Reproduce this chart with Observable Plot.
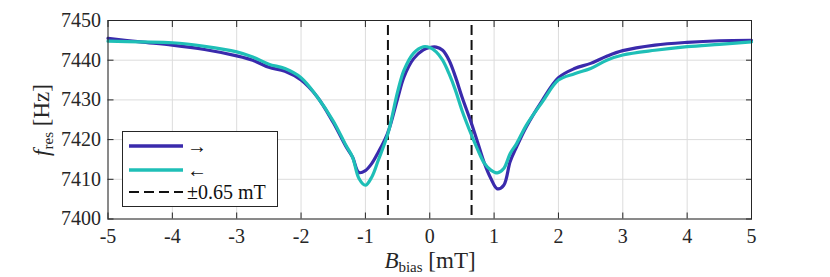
<!DOCTYPE html>
<html><head><meta charset="utf-8">
<script src="https://cdn.jsdelivr.net/npm/d3@7"></script>
<script src="https://cdn.jsdelivr.net/npm/@observablehq/plot@0.6"></script>
<style>
body{margin:0;background:#fff;}
#wrap{position:relative;width:830px;height:277px;font-family:'Liberation Serif','Times New Roman','DejaVu Serif',serif;}
#legend{position:absolute;left:122px;top:131px;width:156px;height:76px;border:1px solid #262626;background:#fff;box-sizing:border-box;font-size:20px;color:#111;}
.row{position:absolute;left:6px;display:flex;align-items:center;}
</style></head><body><div id="wrap"></div>
<script>
const bx = [-5,-4.5,-4,-3.5,-3,-2.75,-2.5,-2.25,-2,-1.75,-1.5,-1.3,-1.2,-1.1,-1.0,-0.9,-0.8,-0.65,-0.5,-0.4,-0.25,-0.1,0,0.1,0.2,0.3,0.4,0.5,0.65,0.75,0.85,0.95,1.05,1.15,1.25,1.35,1.5,1.75,2,2.25,2.5,2.75,3,3.5,4,4.5,5];
const fwd = [7445.5,7444.6,7443.8,7442.7,7441.1,7440.0,7438.2,7437.2,7435.0,7430.8,7424.3,7418.2,7415.6,7411.7,7412.2,7414.0,7416.8,7421.8,7430.3,7435.8,7440.4,7442.6,7443.2,7443.3,7442.5,7440.0,7435.8,7430.8,7424.0,7419.0,7414.0,7410.2,7407.6,7408.5,7414.5,7418.2,7423.2,7429.9,7435.6,7437.9,7439.2,7441.0,7442.4,7443.8,7444.5,7444.9,7445.0];
const bwd = [7444.8,7444.6,7444.4,7443.5,7442.1,7440.8,7439.0,7437.9,7435.6,7430.8,7424.7,7418.5,7415.6,7410.2,7408.5,7410.6,7414.8,7421.5,7432.0,7437.5,7441.8,7443.4,7443.2,7442.1,7440.0,7436.6,7432.4,7427.4,7421.1,7417.3,7414.0,7412.3,7411.6,7412.7,7416.5,7419.0,7423.6,7429.5,7435.0,7436.6,7437.9,7440.0,7441.3,7442.5,7443.4,7444.0,7444.6];
const xTicks = [-5,-4,-3,-2,-1,0,1,2,3,4,5];
const yTicks = [7400,7410,7420,7430,7440,7450];
const markers = [-0.65, 0.65];
const seriesNames = ["\u2192", "\u2190", "\u00b10.65 mT"];
const colors = ["#3a2aac", "#1fbfb7"];
const FONT = "'Liberation Serif','Times New Roman','DejaVu Serif',serif";

const fwdData = bx.map((x,i)=>({x, y: fwd[i]}));
const bwdData = bx.map((x,i)=>({x, y: bwd[i]}));

const chart = Plot.plot({
  width: 830, height: 277,
  marginLeft: 107.5, marginRight: 79, marginTop: 20, marginBottom: 58.5,
  style: {fontFamily: FONT, fontSize: "20px", color: "#262626", background: "#fff"},
  x: {domain: [-5,5]},
  y: {domain: [7400,7450]},
  marks: [
    Plot.gridX(xTicks, {stroke: "#dcdcdc", strokeOpacity: 1, strokeWidth: 1}),
    Plot.gridY(yTicks, {stroke: "#dcdcdc", strokeOpacity: 1, strokeWidth: 1}),
    Plot.ruleX(markers, {stroke: "#111", strokeWidth: 2, strokeDasharray: "10,5", strokeDashoffset: 10}),
    Plot.line(fwdData, {x: "x", y: "y", stroke: colors[0], strokeWidth: 3.2, curve: "catmull-rom"}),
    Plot.line(bwdData, {x: "x", y: "y", stroke: colors[1], strokeWidth: 3.2, curve: "catmull-rom"}),
    Plot.axisX(xTicks, {anchor: "bottom", tickSize: -6, tickPadding: 16, tickFormat: d => String(d), stroke: "#262626", fill: "#262626", fontSize: 20, label: null}),
    Plot.axisX(xTicks, {anchor: "top", tickSize: -6, tickFormat: () => "", stroke: "#262626", label: null}),
    Plot.axisY(yTicks, {anchor: "left", tickSize: -6, tickPadding: 13, tickFormat: d => String(d), stroke: "#262626", fill: "#262626", fontSize: 20, label: null}),
    Plot.axisY(yTicks, {anchor: "right", tickSize: -6, tickFormat: () => "", stroke: "#262626", label: null}),
    Plot.frame({stroke: "#262626", strokeWidth: 1})
  ]
});
const svg = d3.select(chart);
const xl = svg.append("text").attr("x", 430).attr("y", 268).attr("text-anchor", "middle")
  .attr("font-family", FONT).attr("font-size", 23).attr("fill", "#262626");
xl.append("tspan").attr("font-style", "italic").text("B");
xl.append("tspan").attr("font-size", 15).attr("dy", 4).text("bias");
xl.append("tspan").attr("dy", -4).text(" [mT]");
const yl = svg.append("text").attr("transform", "translate(49,120) rotate(-90)").attr("text-anchor", "middle")
  .attr("font-family", FONT).attr("font-size", 23).attr("fill", "#262626");
yl.append("tspan").attr("font-style", "italic").text("f");
yl.append("tspan").attr("font-size", 15).attr("dy", 4).text("res");
yl.append("tspan").attr("dy", -4).text(" [Hz]");

const wrap = document.getElementById("wrap");
wrap.appendChild(chart);
const leg = document.createElement("div");
leg.id = "legend";
const rowsY = [14, 38, 60];
const dashes = [null, null, "10,5"];
const lcolors = [colors[0], colors[1], "#111"];
const lw = [3.5, 3.5, 2];
seriesNames.forEach((name, i) => {
  const r = document.createElement("div");
  r.className = "row";
  r.style.top = (rowsY[i] - 12) + "px";
  r.innerHTML = `<svg width="56" height="24"><line x1="0" x2="54" y1="12" y2="12" stroke="${lcolors[i]}" stroke-width="${lw[i]}" ${dashes[i] ? `stroke-dasharray="${dashes[i]}"` : ""}/></svg><span style="margin-left:2px;line-height:24px">${name}</span>`;
  leg.appendChild(r);
});
wrap.appendChild(leg);
</script></body></html>
